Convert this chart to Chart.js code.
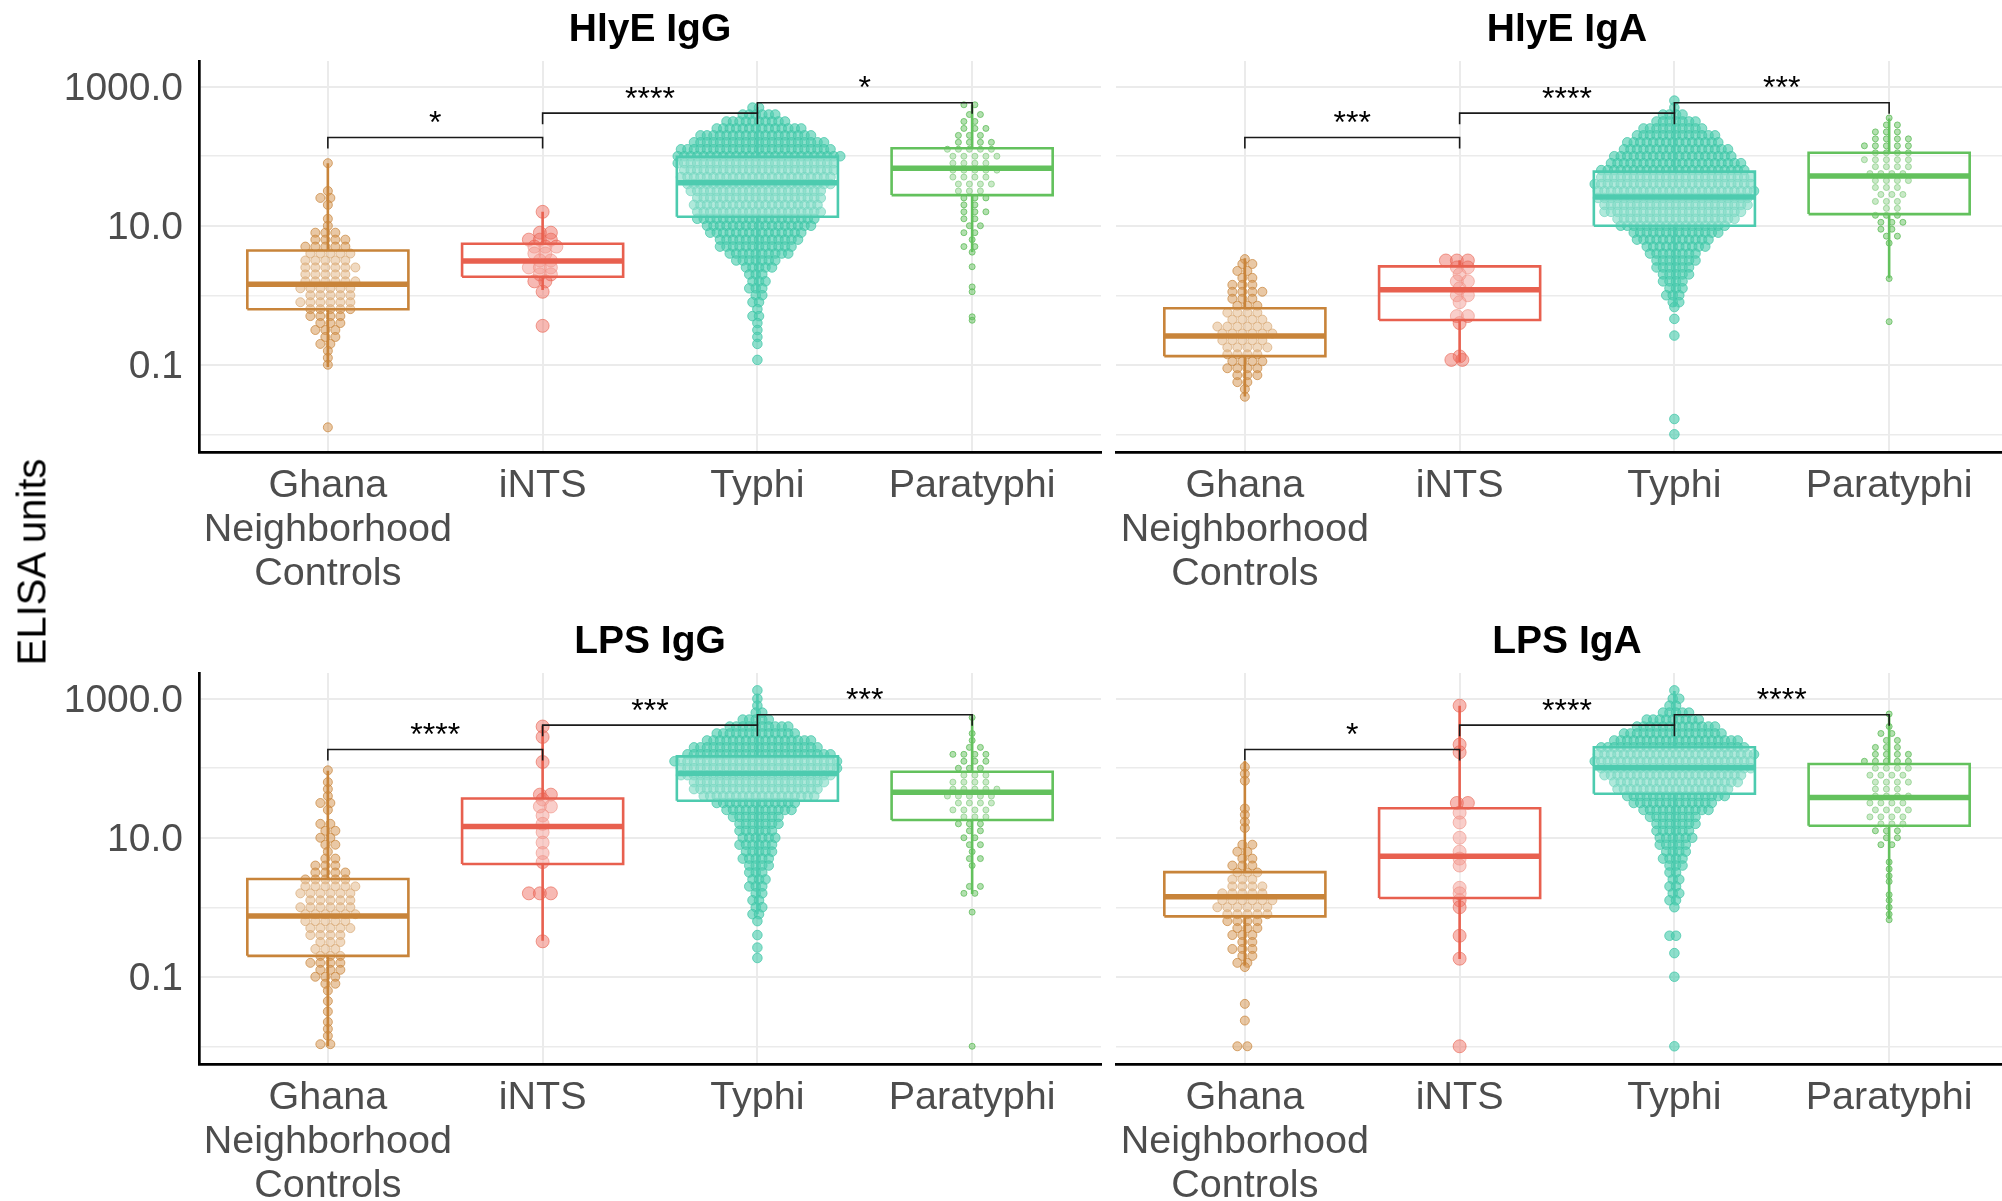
<!DOCTYPE html>
<html>
<head>
<meta charset="utf-8">
<script src="https://cdn.jsdelivr.net/npm/chart.js@4.4.1/dist/chart.umd.min.js"></script>
<style>
  html, body { margin: 0; padding: 0; background: #fff; overflow: hidden; width: 2002px; height: 1201px; }
  canvas { position: absolute; }
  #yTitle { position: absolute; left: 32px; top: 562px; transform: translate(-50%, -50%) rotate(-90deg);
    font: 40px "Liberation Sans", Arial, sans-serif; color: #000; white-space: nowrap; }
</style>
</head>
<body>
<canvas id="panel0" width="1110" height="600" style="left:0;top:0"></canvas>
<canvas id="panel1" width="930" height="600" style="left:1100px;top:0"></canvas>
<canvas id="panel2" width="1110" height="589" style="left:0;top:612px"></canvas>
<canvas id="panel3" width="930" height="589" style="left:1100px;top:612px"></canvas>
<div id="yTitle">ELISA units</div>
<script>
// ---- data ----
const CATEGORIES = [["Ghana", "Neighborhood", "Controls"], ["iNTS"], ["Typhi"], ["Paratyphi"]];
const PANEL_TITLES = ["HlyE IgG", "HlyE IgA", "LPS IgG", "LPS IgA"];
const Y_TICK_VALUES = [0.01, 0.1, 1, 10, 100, 1000];
const Y_TICK_LABELS = ["", "0.1", "", "10.0", "", "1000.0"];

// box stats per group: [lower whisker, Q1, median, Q3, upper whisker] in ELISA units
const HLYE_IGG_BOX = [[0.093, 0.63, 1.44, 4.4, 79], [1.19, 1.85, 3.1, 5.5, 15.9], [1.07, 13.5, 41.6, 98, 510], [4.2, 27.6, 67, 130, 550]];
const HLYE_IGA_BOX = [[0.035, 0.133, 0.26, 0.65, 3.4], [0.11, 0.44, 1.2, 2.6, 3.2], [0.68, 10, 26, 60, 575], [1.75, 14.7, 52, 112, 350]];
const LPS_IGG_BOX = [[0.01, 0.2, 0.75, 2.55, 92], [0.33, 4.2, 14.5, 36.7, 407], [0.8, 34, 84, 148, 1160], [1.55, 18, 45, 89, 535]];
const LPS_IGA_BOX = [[0.145, 0.74, 1.42, 3.2, 127], [0.18, 1.36, 5.4, 26.5, 790], [1.12, 43, 102, 200, 1290], [0.68, 14.9, 38, 115, 600]];

// swarm points: [log10(ELISA units), number of points at that level]
const HLYE_IGG_GHANA = [[1.9,1],[1.5,1],[1.4,2],[1.3,1],[1.1,1],[1.0,1],[0.9,3],[0.8,4],[0.7,5],[0.6,5],[0.5,5],[0.4,6],[0.3,5],[0.2,6],[0.1,6],[0.0,5],[-0.1,6],[-0.2,5],[-0.3,4],[-0.4,3],[-0.5,3],[-0.6,2],[-0.7,2],[-0.8,1],[-0.9,1],[-1.0,1],[-1.9,1]];
const HLYE_IGG_INTS = [[1.2,1],[0.9,2],[0.8,3],[0.7,3],[0.6,2],[0.5,2],[0.4,3],[0.3,2],[0.2,2],[0.05,1],[-0.44,1]];
const HLYE_IGG_TYPHI = [[2.7,2],[2.6,6],[2.5,10],[2.4,14],[2.3,18],[2.2,21],[2.1,24],[2.0,26],[1.9,25],[1.8,24],[1.7,24],[1.6,23],[1.5,21],[1.4,20],[1.3,20],[1.2,20],[1.1,19],[1.0,17],[0.9,15],[0.8,13],[0.7,12],[0.6,10],[0.5,7],[0.4,5],[0.3,3],[0.2,3],[0.1,3],[0.0,2],[-0.1,2],[-0.2,1],[-0.3,2],[-0.4,1],[-0.5,1],[-0.6,1],[-0.7,1],[-0.93,1]];
const HLYE_IGG_PARA = [[2.74,2],[2.6,2],[2.5,2],[2.4,3],[2.3,3],[2.2,4],[2.1,5],[2.0,5],[1.9,4],[1.8,5],[1.7,4],[1.6,4],[1.5,3],[1.4,3],[1.3,2],[1.2,3],[1.1,2],[1.0,2],[0.9,2],[0.8,1],[0.7,2],[0.62,1],[0.41,1],[0.12,1],[0.05,1],[-0.31,1],[-0.36,1]];

const HLYE_IGA_GHANA = [[0.52,1],[0.45,2],[0.35,2],[0.25,2],[0.15,3],[0.05,4],[-0.05,3],[-0.15,3],[-0.25,4],[-0.35,4],[-0.45,6],[-0.55,6],[-0.65,5],[-0.75,5],[-0.85,4],[-0.95,4],[-1.05,4],[-1.15,3],[-1.25,2],[-1.35,1],[-1.46,1]];
const HLYE_IGA_INTS = [[0.5,3],[0.4,2],[0.3,1],[0.2,2],[0.1,1],[0.0,2],[-0.1,1],[-0.3,2],[-0.4,1],[-0.88,1],[-0.93,2]];
const HLYE_IGA_TYPHI = [[2.8,1],[2.7,1],[2.6,4],[2.5,7],[2.4,10],[2.3,13],[2.2,15],[2.1,17],[2.0,19],[1.9,21],[1.8,23],[1.7,24],[1.6,25],[1.5,25],[1.4,24],[1.3,23],[1.2,22],[1.1,19],[1.0,17],[0.9,14],[0.8,12],[0.7,10],[0.6,8],[0.5,7],[0.4,6],[0.3,5],[0.2,4],[0.1,3],[0.0,3],[-0.1,2],[-0.17,1],[-0.34,1],[-0.58,1],[-1.78,1],[-2.0,1]];
const HLYE_IGA_PARA = [[2.55,1],[2.45,2],[2.35,3],[2.25,4],[2.15,5],[2.05,4],[1.95,5],[1.85,4],[1.75,4],[1.65,4],[1.55,3],[1.45,3],[1.35,3],[1.25,2],[1.15,3],[1.05,3],[0.95,2],[0.85,2],[0.75,1],[0.24,1],[-0.38,1]];

const LPS_IGG_GHANA = [[1.97,1],[1.8,1],[1.7,1],[1.6,1],[1.5,2],[1.4,1],[1.2,2],[1.1,2],[1.0,2],[0.9,2],[0.8,1],[0.7,2],[0.6,3],[0.5,4],[0.4,5],[0.3,6],[0.2,6],[0.1,5],[0.0,6],[-0.1,6],[-0.2,5],[-0.3,5],[-0.4,4],[-0.5,3],[-0.6,3],[-0.7,3],[-0.8,4],[-0.9,3],[-1.0,3],[-1.1,2],[-1.2,1],[-1.35,1],[-1.5,1],[-1.65,1],[-1.75,1],[-1.85,1],[-1.97,2]];
const LPS_IGG_INTS = [[2.6,1],[2.45,1],[2.09,1],[1.62,2],[1.55,1],[1.45,2],[1.32,1],[1.2,1],[1.08,1],[0.93,1],[0.78,1],[0.65,1],[0.2,3],[-0.49,1]];
const LPS_IGG_TYPHI = [[3.12,1],[3.0,1],[2.9,1],[2.8,2],[2.7,5],[2.6,10],[2.5,13],[2.4,17],[2.3,20],[2.2,23],[2.1,26],[2.0,25],[1.9,24],[1.8,21],[1.7,20],[1.6,18],[1.5,13],[1.4,11],[1.3,8],[1.2,7],[1.1,6],[1.0,6],[0.9,6],[0.8,5],[0.7,5],[0.6,4],[0.5,3],[0.4,3],[0.3,3],[0.2,2],[0.1,2],[0.0,2],[-0.1,2],[-0.2,1],[-0.4,1],[-0.58,1],[-0.73,1]];
const LPS_IGG_PARA = [[2.73,1],[2.5,1],[2.4,1],[2.3,2],[2.2,4],[2.1,3],[2.0,3],[1.9,3],[1.8,4],[1.7,5],[1.6,5],[1.5,4],[1.4,4],[1.3,3],[1.2,3],[1.1,2],[1.0,2],[0.9,2],[0.8,1],[0.7,2],[0.6,1],[0.3,2],[0.2,2],[-0.07,1],[-2.0,1]];

const LPS_IGA_GHANA = [[2.02,1],[1.92,1],[1.82,1],[1.42,1],[1.33,1],[1.23,1],[1.14,1],[0.9,2],[0.8,2],[0.7,2],[0.6,3],[0.5,3],[0.4,3],[0.3,4],[0.2,5],[0.1,6],[0.0,6],[-0.1,5],[-0.2,4],[-0.3,3],[-0.4,3],[-0.5,2],[-0.6,3],[-0.7,2],[-0.8,2],[-0.86,1],[-1.39,1],[-1.63,1],[-2.0,2]];
const LPS_IGA_INTS = [[2.9,1],[2.34,1],[2.23,1],[1.5,2],[1.36,1],[1.22,1],[1.0,1],[0.8,1],[0.7,1],[0.6,1],[0.28,1],[0.2,1],[0.1,1],[0.0,1],[-0.41,1],[-0.74,1],[-2.0,1]];
const LPS_IGA_TYPHI = [[3.12,1],[3.0,2],[2.9,2],[2.8,5],[2.7,9],[2.6,13],[2.5,16],[2.4,20],[2.3,23],[2.2,25],[2.1,25],[2.0,24],[1.9,22],[1.8,20],[1.7,18],[1.6,16],[1.5,13],[1.4,11],[1.3,8],[1.2,7],[1.1,6],[1.0,6],[0.9,5],[0.8,4],[0.7,4],[0.6,3],[0.5,2],[0.4,2],[0.3,2],[0.2,2],[0.1,2],[0.0,1],[-0.41,2],[-0.66,1],[-1.0,1],[-2.0,1]];
const LPS_IGA_PARA = [[2.78,1],[2.6,1],[2.5,2],[2.4,2],[2.3,3],[2.2,4],[2.1,5],[2.0,4],[1.9,4],[1.8,4],[1.7,3],[1.6,4],[1.5,4],[1.4,4],[1.3,4],[1.2,3],[1.1,3],[1.0,2],[0.9,2],[0.65,1],[0.55,1],[0.45,1],[0.37,1],[0.18,1],[0.1,1],[0.0,1],[-0.1,1],[-0.18,1]];

// significance brackets: compared groups, bar height (log10 units), label per panel
const BRACKET_PAIRS = [[1, 2], [2, 3], [3, 4]];
const BRACKET_LEVELS = [2.27, 2.62, 2.77];
const HLYE_IGG_SIG = ["*", "****", "*"];
const HLYE_IGA_SIG = ["***", "****", "***"];
const LPS_IGG_SIG = ["****", "***", "***"];
const LPS_IGA_SIG = ["*", "****", "****"];

// ---- styling ----
const FONT = '"Liberation Sans", Arial, sans-serif';
Chart.defaults.font.family = FONT;
const BOX_COLORS = ["#C8843A", "#E8604F", "#4DCBAF", "#63C15D"];
const POINT_FILLS = ["rgba(212,146,76,0.5)", "rgba(238,108,96,0.48)", "rgba(72,203,172,0.62)", "rgba(102,194,96,0.5)"];
const POINT_LINES = ["rgba(200,132,58,0.7)", "rgba(232,96,79,0.6)", "rgba(60,196,165,0.7)", "rgba(90,186,84,0.75)"];
const POINT_RADIUS = [4.5, 6.5, 4.8, 3];
const SWARM_SPACING = [10, 11, 6.5, 11];
const BOX_HALF = 0.375;
const BRACKET_TIP = 0.16;
const Y_MIN = Math.pow(10, -2.255);
const Y_MAX = Math.pow(10, 3.37);

const sigLabels = {
  id: "sigLabels",
  afterDatasetsDraw(chart) {
    const { ctx, scales: { x, y } } = chart;
    ctx.save();
    ctx.font = "32px " + FONT;
    ctx.fillStyle = "#000";
    ctx.textAlign = "center";
    ctx.textBaseline = "alphabetic";
    chart.data.datasets.forEach((ds) => {
      if (!ds.sig) return;
      const mid = (x.getPixelForValue(ds.pair[0]) + x.getPixelForValue(ds.pair[1])) / 2;
      ctx.fillText(ds.sig, mid, y.getPixelForValue(ds.barValue) - 4.5);
    });
    ctx.restore();
  }
};

function buildPanel(canvasId, title, boxes, swarms, sig, showY) {
  const datasets = [];
  swarms.forEach((levels, g) => {
    const points = [];
    levels.forEach(([level, n], row) => {
      for (let k = 0; k < n; k++) points.push({ x: g + 1, y: Math.pow(10, level), cat: g + 1, k, n, row });
    });
    datasets.push({ type: "scatter", data: points, swarm: SWARM_SPACING[g], pointRadius: POINT_RADIUS[g],
      backgroundColor: POINT_FILLS[g], borderColor: POINT_LINES[g], borderWidth: 1, order: 4 });
  });
  boxes.forEach(([lo, q1, med, q3, hi], g) => {
    const c = g + 1;
    const color = BOX_COLORS[g];
    datasets.push({ type: "line", data: [{ x: c - BOX_HALF, y: q1 }, { x: c + BOX_HALF, y: q1 }, { x: c + BOX_HALF, y: q3 },
      { x: c - BOX_HALF, y: q3 }, { x: c - BOX_HALF, y: q1 }], borderColor: color, borderWidth: 2.6, borderJoinStyle: "miter",
      backgroundColor: "rgba(255,255,255,0.3)", fill: "shape", pointRadius: 0, order: 3 });
    datasets.push({ type: "line", data: [{ x: c, y: hi }, { x: c, y: q3 }, { x: c, y: null }, { x: c, y: q1 }, { x: c, y: lo }],
      borderColor: color, borderWidth: 2.6, spanGaps: false, fill: false, pointRadius: 0, order: 2 });
    datasets.push({ type: "line", data: [{ x: c - BOX_HALF, y: med }, { x: c + BOX_HALF, y: med }],
      borderColor: color, borderWidth: 5.5, fill: false, pointRadius: 0, order: 2 });
  });
  BRACKET_PAIRS.forEach(([a, b], i) => {
    const bar = Math.pow(10, BRACKET_LEVELS[i]);
    const tip = Math.pow(10, BRACKET_LEVELS[i] - BRACKET_TIP);
    datasets.push({ type: "line", data: [{ x: a, y: tip }, { x: a, y: bar }, { x: b, y: bar }, { x: b, y: tip }],
      borderColor: "#1a1a1a", borderWidth: 1.6, fill: false, pointRadius: 0, order: 1,
      sig: sig[i], pair: [a, b], barValue: bar });
  });

  const areaLeft = showY ? 199 : 16;
  const areaWidth = 902;
  const chart = new Chart(document.getElementById(canvasId), {
    type: "scatter",
    data: { datasets },
    options: {
      responsive: false, animation: false, events: [],
      layout: { padding: { left: 0, right: 9, top: 0, bottom: 0 } },
      plugins: {
        legend: { display: false }, tooltip: { enabled: false },
        title: { display: true, text: title, fullSize: false, color: "#000",
          font: { size: 39, weight: "bold" }, padding: { top: 7, bottom: 7.2 } }
      },
      scales: {
        x: {
          type: "linear", min: 0.4, max: 4.6,
          afterBuildTicks: (s) => { s.ticks = CATEGORIES.map((_, i) => ({ value: i + 1 })); },
          afterFit: (s) => { s.height = s.chart.height - 452; },
          ticks: { autoSkip: false, maxRotation: 0, padding: 11.5, color: "#4D4D4D",
            font: { size: 39.5, lineHeight: 1.12 }, callback: (v) => CATEGORIES[v - 1] },
          grid: { color: "#EBEBEB", lineWidth: 2, drawTicks: false },
          border: { display: true, color: "#000", width: 2.7 }
        },
        y: {
          type: "logarithmic", min: Y_MIN, max: Y_MAX,
          afterBuildTicks: (s) => { s.ticks = Y_TICK_VALUES.map((v) => ({ value: v })); },
          afterFit: (s) => { s.width = areaLeft; },
          ticks: { display: showY, padding: 16, labelOffset: 2.5, color: "#4D4D4D", font: { size: 39 },
            callback: (v, i) => Y_TICK_LABELS[i] },
          grid: { color: "#EBEBEB", lineWidth: (ctx) => (Y_TICK_LABELS[ctx.index] ? 2 : 1.5), drawTicks: false },
          border: { display: showY, color: "#000", width: 2.7 }
        }
      }
    },
    plugins: [sigLabels]
  });

  // make the plot area exactly areaWidth wide
  const gap = chart.chartArea.right - (areaLeft + areaWidth);
  if (Math.abs(gap) > 0.5) {
    chart.options.layout.padding.right += gap;
    chart.update("none");
  }

  // spread each level's points sideways (beeswarm rows) using the x scale
  const xs = chart.scales.x;
  const unit = xs.getPixelForValue(2) - xs.getPixelForValue(1);
  chart.data.datasets.forEach((ds) => {
    if (!ds.swarm) return;
    ds.data.forEach((p) => {
      const stagger = p.n > 1 ? (p.row % 2 ? 0.25 : -0.25) * ds.swarm : 0;
      p.x = p.cat + ((p.k - (p.n - 1) / 2) * ds.swarm + stagger) / unit;
    });
  });
  chart.update("none");
  return chart;
}

buildPanel("panel0", PANEL_TITLES[0], HLYE_IGG_BOX, [HLYE_IGG_GHANA, HLYE_IGG_INTS, HLYE_IGG_TYPHI, HLYE_IGG_PARA], HLYE_IGG_SIG, true);
buildPanel("panel1", PANEL_TITLES[1], HLYE_IGA_BOX, [HLYE_IGA_GHANA, HLYE_IGA_INTS, HLYE_IGA_TYPHI, HLYE_IGA_PARA], HLYE_IGA_SIG, false);
buildPanel("panel2", PANEL_TITLES[2], LPS_IGG_BOX, [LPS_IGG_GHANA, LPS_IGG_INTS, LPS_IGG_TYPHI, LPS_IGG_PARA], LPS_IGG_SIG, true);
buildPanel("panel3", PANEL_TITLES[3], LPS_IGA_BOX, [LPS_IGA_GHANA, LPS_IGA_INTS, LPS_IGA_TYPHI, LPS_IGA_PARA], LPS_IGA_SIG, false);
</script>
</body>
</html>
